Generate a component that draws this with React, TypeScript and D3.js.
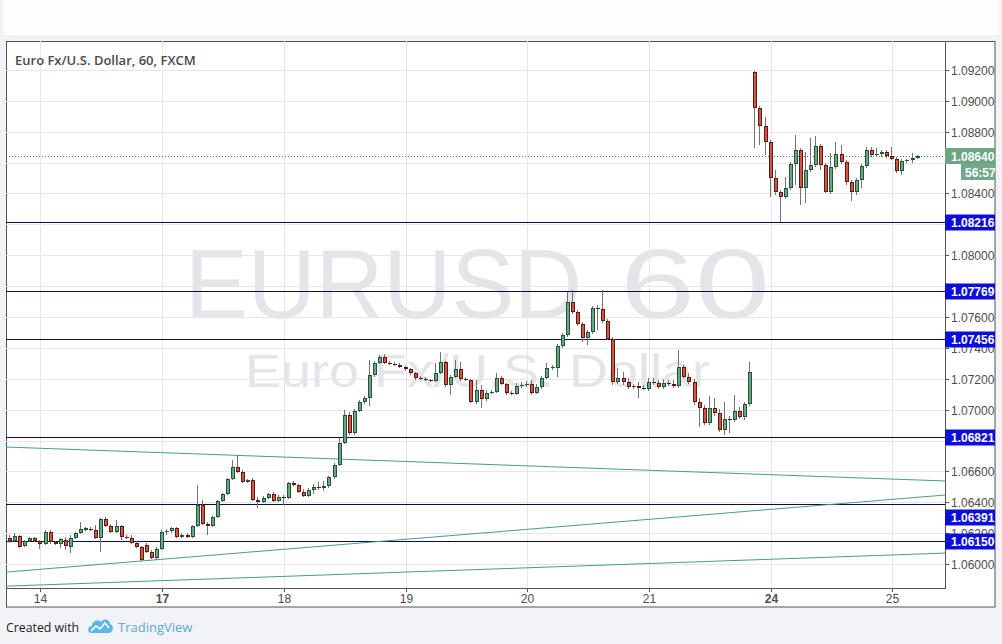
import React from 'react';
import * as d3 from 'd3';

// ---- data (hourly EUR/USD bars, index 0..179) ----
const opens = [
  1.06168,1.06149,1.06181,1.06117,1.06149,1.06168,1.06149,1.06130,1.06207,1.06143,
  1.06130,1.06156,1.06110,1.06168,1.06201,1.06220,1.06227,1.06220,1.06168,1.06292,
  1.06246,1.06207,1.06246,1.06175,1.06168,1.06136,1.06110,1.06123,1.06078,1.06039,
  1.06097,1.06207,1.06214,1.06233,1.06175,1.06188,1.06175,1.06246,1.06382,1.06259,
  1.06246,1.06305,1.06408,1.06454,1.06551,1.06629,1.06596,1.06531,1.06544,1.06415,
  1.06402,1.06428,1.06454,1.06408,1.06434,1.06428,1.06525,1.06512,1.06467,1.06441,
  1.06480,1.06499,1.06492,1.06505,1.06564,1.06642,1.06784,1.06966,1.06849,1.06991,
  1.07050,1.07076,1.07225,1.07302,1.07341,1.07302,1.07296,1.07290,1.07277,1.07264,
  1.07238,1.07205,1.07199,1.07192,1.07186,1.07238,1.07309,1.07160,1.07212,1.07264,
  1.07199,1.07192,1.07050,1.07128,1.07069,1.07108,1.07115,1.07205,1.07166,1.07108,
  1.07102,1.07153,1.07160,1.07166,1.07108,1.07147,1.07205,1.07270,1.07270,1.07413,
  1.07484,1.07698,1.07633,1.07555,1.07464,1.07503,1.07659,1.07652,1.07575,1.07458,
  1.07179,1.07205,1.07179,1.07147,1.07153,1.07140,1.07134,1.07179,1.07173,1.07147,
  1.07173,1.07166,1.07153,1.07277,1.07212,1.07179,1.07050,1.07011,1.06914,1.07011,
  1.06978,1.06868,1.06940,1.06933,1.06991,1.06953,1.07037,1.09188,1.08955,1.08838,
  1.08735,1.08501,1.08411,1.08378,1.08436,1.08592,1.08683,1.08436,1.08553,1.08586,
  1.08709,1.08586,1.08411,1.08573,1.08657,1.08605,1.08475,1.08411,1.08488,1.08579,
  1.08683,1.08650,1.08657,1.08670,1.08644,1.08624,1.08547,1.08611,1.08618,1.08631,
];
const highs = [
  1.06188,1.06201,1.06188,1.06156,1.06175,1.06175,1.06156,1.06220,1.06220,1.06149,
  1.06168,1.06175,1.06188,1.06207,1.06272,1.06240,1.06240,1.06253,1.06298,1.06305,
  1.06259,1.06285,1.06253,1.06188,1.06188,1.06149,1.06117,1.06136,1.06091,1.06110,
  1.06220,1.06227,1.06240,1.06240,1.06201,1.06201,1.06253,1.06512,1.06415,1.06272,
  1.06311,1.06415,1.06460,1.06557,1.06674,1.06706,1.06609,1.06551,1.06557,1.06434,
  1.06441,1.06460,1.06467,1.06447,1.06447,1.06531,1.06538,1.06518,1.06486,1.06492,
  1.06518,1.06531,1.06538,1.06570,1.06654,1.06816,1.06998,1.06985,1.07004,1.07063,
  1.07089,1.07322,1.07315,1.07354,1.07361,1.07315,1.07309,1.07302,1.07283,1.07270,
  1.07245,1.07218,1.07212,1.07199,1.07302,1.07374,1.07315,1.07225,1.07322,1.07309,
  1.07212,1.07199,1.07192,1.07160,1.07128,1.07128,1.07238,1.07218,1.07173,1.07121,
  1.07173,1.07179,1.07186,1.07192,1.07166,1.07218,1.07302,1.07290,1.07426,1.07497,
  1.07763,1.07776,1.07646,1.07568,1.07516,1.07672,1.07678,1.07776,1.07588,1.07471,
  1.07270,1.07244,1.07205,1.07166,1.07179,1.07160,1.07205,1.07205,1.07192,1.07199,
  1.07192,1.07192,1.07387,1.07290,1.07238,1.07199,1.07076,1.07030,1.07089,1.07076,
  1.07004,1.07050,1.06959,1.07095,1.07017,1.07050,1.07309,1.09194,1.08968,1.08897,
  1.08748,1.08553,1.08424,1.08508,1.08605,1.08780,1.08696,1.08670,1.08760,1.08774,
  1.08722,1.08599,1.08663,1.08735,1.08715,1.08618,1.08488,1.08501,1.08592,1.08702,
  1.08702,1.08696,1.08683,1.08683,1.08702,1.08638,1.08624,1.08624,1.08663,1.08650,
];
const lows = [
  1.06136,1.06143,1.06104,1.06110,1.06143,1.06143,1.06097,1.06123,1.06130,1.06123,
  1.06104,1.06091,1.06071,1.06162,1.06194,1.06214,1.06214,1.06162,1.06078,1.06240,
  1.06201,1.06201,1.06156,1.06162,1.06130,1.06104,1.06019,1.06071,1.06032,1.06026,
  1.06091,1.06188,1.06201,1.06168,1.06168,1.06168,1.06168,1.06240,1.06253,1.06188,
  1.06240,1.06298,1.06402,1.06447,1.06544,1.06590,1.06525,1.06525,1.06408,1.06363,
  1.06395,1.06421,1.06402,1.06402,1.06382,1.06421,1.06505,1.06460,1.06434,1.06434,
  1.06454,1.06480,1.06473,1.06492,1.06551,1.06635,1.06778,1.06836,1.06836,1.06985,
  1.07037,1.07024,1.07212,1.07296,1.07296,1.07290,1.07283,1.07270,1.07251,1.07225,
  1.07192,1.07192,1.07186,1.07179,1.07179,1.07231,1.07147,1.07095,1.07205,1.07186,
  1.07186,1.07043,1.07037,1.07011,1.07056,1.07102,1.07108,1.07160,1.07095,1.07095,
  1.07095,1.07140,1.07147,1.07095,1.07102,1.07134,1.07199,1.07257,1.07212,1.07400,
  1.07471,1.07620,1.07542,1.07439,1.07419,1.07490,1.07516,1.07562,1.07451,1.07160,
  1.07166,1.07160,1.07134,1.07134,1.07076,1.07128,1.07121,1.07160,1.07134,1.07134,
  1.07153,1.07140,1.07140,1.07199,1.07166,1.07030,1.06888,1.06901,1.06901,1.06959,
  1.06855,1.06836,1.06849,1.06920,1.06940,1.06933,1.07024,1.08696,1.08715,1.08650,
  1.08378,1.08391,1.08216,1.08365,1.08424,1.08456,1.08326,1.08339,1.08540,1.08573,
  1.08553,1.08404,1.08398,1.08560,1.08592,1.08456,1.08352,1.08391,1.08436,1.08566,
  1.08638,1.08638,1.08638,1.08631,1.08618,1.08534,1.08521,1.08599,1.08599,1.08624,
];
const closes = [
  1.06149,1.06181,1.06110,1.06149,1.06168,1.06149,1.06130,1.06207,1.06143,1.06130,
  1.06162,1.06117,1.06168,1.06201,1.06227,1.06233,1.06220,1.06168,1.06292,1.06246,
  1.06207,1.06246,1.06175,1.06168,1.06136,1.06110,1.06026,1.06078,1.06039,1.06097,
  1.06207,1.06214,1.06233,1.06175,1.06188,1.06175,1.06246,1.06382,1.06259,1.06246,
  1.06305,1.06408,1.06454,1.06551,1.06629,1.06596,1.06531,1.06544,1.06415,1.06402,
  1.06428,1.06454,1.06408,1.06434,1.06428,1.06525,1.06512,1.06467,1.06441,1.06480,
  1.06499,1.06492,1.06505,1.06564,1.06642,1.06784,1.06966,1.06849,1.06991,1.07050,
  1.07076,1.07225,1.07302,1.07341,1.07302,1.07296,1.07290,1.07277,1.07264,1.07238,
  1.07205,1.07199,1.07192,1.07186,1.07238,1.07309,1.07160,1.07212,1.07264,1.07199,
  1.07192,1.07050,1.07128,1.07069,1.07108,1.07115,1.07205,1.07166,1.07108,1.07102,
  1.07153,1.07160,1.07166,1.07108,1.07147,1.07205,1.07270,1.07277,1.07413,1.07484,
  1.07698,1.07633,1.07555,1.07464,1.07503,1.07659,1.07652,1.07575,1.07458,1.07179,
  1.07205,1.07179,1.07147,1.07153,1.07140,1.07134,1.07179,1.07173,1.07147,1.07173,
  1.07166,1.07153,1.07277,1.07212,1.07179,1.07050,1.07011,1.06914,1.07011,1.06978,
  1.06868,1.06940,1.06933,1.06991,1.06953,1.07037,1.07244,1.08955,1.08838,1.08735,
  1.08501,1.08411,1.08378,1.08436,1.08592,1.08683,1.08436,1.08553,1.08586,1.08709,
  1.08586,1.08411,1.08573,1.08657,1.08605,1.08475,1.08411,1.08488,1.08579,1.08683,
  1.08650,1.08657,1.08670,1.08644,1.08624,1.08547,1.08611,1.08618,1.08631,1.08640,
];

const dayTickIndex = [6, 30, 54, 78, 102, 126, 150, 174];
const dayTickLabels = ['14', '17', '18', '19', '20', '21', '24', '25'];
const weekStartLabels = ['17', '24'];
const priceTicks = [1.06, 1.062, 1.064, 1.066, 1.068, 1.07, 1.072, 1.074, 1.076, 1.078, 1.08, 1.082, 1.084, 1.086, 1.088, 1.09, 1.092];
const levels = [1.08216, 1.07769, 1.07456, 1.06821, 1.06391, 1.0615];
const levelLabelShift = [0, 0, 0, 0, 13, 0];
const trendStartIdx = [-0.8, -0.8, -0.8];
const trendStartPrice = [1.06758, 1.05948, 1.05857];
const trendEndIdx = [184.4, 184.4, 184.4];
const trendEndPrice = [1.06538, 1.06447, 1.06071];
const lastPrice = 1.0864;
const countdown = '56:57';
const title = 'Euro Fx/U.S. Dollar, 60, FXCM';

const UP = '#6ba583', UPB = '#225437', DN = '#d75442', DNB = '#5b1a13', WICK = '#737375';
const AXIS = '#555555';

export default function App() {
  const L = 6, R = 945, T = 41, B = 588;
  const x = d3.scaleLinear().domain([-0.8, 184.4]).range([L, R]);
  const y = d3.scaleLinear().domain([1.05845, 1.09381]).range([B, 42]);
  const fmt = d3.format('.5f');
  const axisFont = '"Liberation Sans", Arial, sans-serif';

  // centres of label boxes on the price axis (to leave out tick labels fully hidden under them)
  const boxCentres = [
    ...levels.map((lv, k) => y(lv) + levelLabelShift[k]),
    y(lastPrice),
    y(lastPrice) + 15,
  ];
  const visibleTicks = priceTicks.filter((p) => boxCentres.every((c) => Math.abs(c - y(p)) >= 7));

  const candles = opens.map((o, i) => {
    const c = closes[i];
    const h = Math.max(highs[i], o, c);
    const l = Math.min(lows[i], o, c);
    const up = c >= o;
    const r = Math.round(x(i));
    const yt = Math.round(y(Math.max(o, c)));
    const yb = Math.round(y(Math.min(o, c)));
    const bh = Math.max(1, yb - yt);
    return (
      <g key={i}>
        <line x1={r - 0.5} x2={r - 0.5} y1={Math.round(y(h))} y2={Math.round(y(l))} stroke={WICK} strokeWidth={1} />
        <rect x={r - 1.5} y={yt + 0.5} width={3} height={bh - 1 > 0 ? bh - 1 : 0.01}
          fill={up ? UP : DN} stroke={up ? UPB : DNB} strokeWidth={1} />
      </g>
    );
  });

  return (
    <svg width={1002} height={644} style={{ position: 'fixed', left: 0, top: 0 }} xmlns="http://www.w3.org/2000/svg">
      <defs>
        <clipPath id="plotClip"><rect x={L} y={T} width={R - L} height={B - T} /></clipPath>
      </defs>
      <rect x={0} y={0} width={1002} height={644} fill="#f1f3f6" />
      <rect x={3} y={0} width={996} height={35} fill="#fdfdfd" />
      <rect x={6.5} y={41.5} width={988.5} height={565.5} fill="#ffffff" stroke={AXIS} strokeWidth={1} />

      {/* watermark */}
      <g fill="#e4e5e9" fontFamily={axisFont}>
        <text x={185} y={318} fontSize={99} textLength={397} lengthAdjust="spacingAndGlyphs">EURUSD</text>
        <text x={620} y={318} fontSize={99} textLength={150} lengthAdjust="spacingAndGlyphs">60</text>
        <text x={245} y={387} fontSize={47} textLength={465} lengthAdjust="spacingAndGlyphs">Euro Fx/U.S. Dollar</text>
      </g>

      {/* grid */}
      <g stroke="#e6e6e6" strokeWidth={1}>
        {dayTickIndex.map((d) => (
          <line key={'vg' + d} x1={Math.round(x(d)) + 0.5} x2={Math.round(x(d)) + 0.5} y1={T} y2={B} />
        ))}
        {priceTicks.map((p) => (
          <line key={'hg' + p} x1={L} x2={R} y1={Math.round(y(p)) + 0.5} y2={Math.round(y(p)) + 0.5} />
        ))}
      </g>

      <g clipPath="url(#plotClip)">
        {levels.map((lv) => (
          <line key={'lv' + lv} x1={L} x2={R} y1={Math.round(y(lv)) + 0.5} y2={Math.round(y(lv)) + 0.5} stroke="#0c0c40" strokeWidth={1} />
        ))}
        {trendStartIdx.map((s, k) => (
          <line key={'tl' + k} x1={x(s)} y1={y(trendStartPrice[k])} x2={x(trendEndIdx[k])} y2={y(trendEndPrice[k])} stroke="#4a9a90" strokeWidth={1} />
        ))}
        <line x1={L} x2={R} y1={Math.round(y(lastPrice)) + 0.5} y2={Math.round(y(lastPrice)) + 0.5} stroke="#4f7a62" strokeWidth={1} strokeDasharray="1,2" />
        {candles}
      </g>

      {/* title */}
      <text x={15} y={65} fontFamily='"Open Sans", sans-serif' fontWeight={600} fontSize={13} fill="#4a4a4a">{title}</text>

      {/* axes lines */}
      <line x1={R + 0.5} x2={R + 0.5} y1={T} y2={B + 1} stroke={AXIS} />
      <line x1={L} x2={R + 1} y1={B + 0.5} y2={B + 0.5} stroke={AXIS} />

      {/* right axis ticks & labels */}
      {priceTicks.map((p) => {
        const yy = Math.round(y(p)) + 0.5;
        return <line key={'ptk' + p} x1={R} x2={R + 4} y1={yy} y2={yy} stroke={AXIS} />;
      })}
      {visibleTicks.map((p) => {
        const yy = Math.round(y(p)) + 0.5;
        return (
          <text key={'pt' + p} x={951} y={yy + 4} fontFamily={axisFont} fontSize={12} fill="#4d4d4d">{fmt(p)}</text>
        );
      })}

      {/* bottom axis ticks & labels */}
      {dayTickIndex.map((d, k) => {
        const xx = Math.round(x(d)) + 0.5;
        const bold = weekStartLabels.includes(dayTickLabels[k]);
        return (
          <g key={'dt' + d}>
            <line x1={xx} x2={xx} y1={B} y2={B + 4} stroke={AXIS} />
            <text x={xx} y={603} textAnchor="middle" fontFamily={axisFont} fontSize={12} fontWeight={bold ? 700 : 400} fill="#4d4d4d">{dayTickLabels[k]}</text>
          </g>
        );
      })}

      {/* level labels */}
      {levels.map((lv, k) => {
        const yy = Math.round(y(lv)) + 0.5 + levelLabelShift[k];
        return (
          <g key={'ll' + lv}>
            <rect x={R} y={yy - 8} width={50} height={16} fill="#0d0ddb" />
            <text x={951} y={yy + 4.5} fontFamily={axisFont} fontSize={12} fontWeight={700} fill="#ffffff">{fmt(lv)}</text>
          </g>
        );
      })}

      {/* last price label */}
      {(() => {
        const yy = Math.round(y(lastPrice)) + 0.5;
        return (
          <g>
            <rect x={R} y={yy - 8.5} width={50} height={16} fill="#6ba583" />
            <text x={951} y={yy + 4} fontFamily={axisFont} fontSize={12} fontWeight={700} fill="#ffffff">{fmt(lastPrice)}</text>
            <rect x={961} y={yy + 7.5} width={34} height={16} fill="#72a98a" />
            <text x={965} y={yy + 20} fontFamily={axisFont} fontSize={12} fontWeight={700} fill="#ffffff">{countdown}</text>
          </g>
        );
      })()}

      {/* footer */}
      <text x={6} y={632} fontFamily='"Open Sans", sans-serif' fontSize={12.3} fill="#1e1e1e">Created with</text>
      <g transform="translate(88,618)">
        <path d="M3,15 C-1,15 -1,8 4,8 C4,3 10,1 13,4 C15,0 22,1 22,6 C26,6 26,15 21,15 Z" fill="#5db7e6" />
        <path d="M3,13 L8,8 L12,11 L17,5 L21,10" fill="none" stroke="#ffffff" strokeWidth={1.6} />
      </g>
      <text x={118} y={632} fontFamily='"Open Sans", sans-serif' fontSize={13} fill="#5ca9d4">TradingView</text>
    </svg>
  );
}
